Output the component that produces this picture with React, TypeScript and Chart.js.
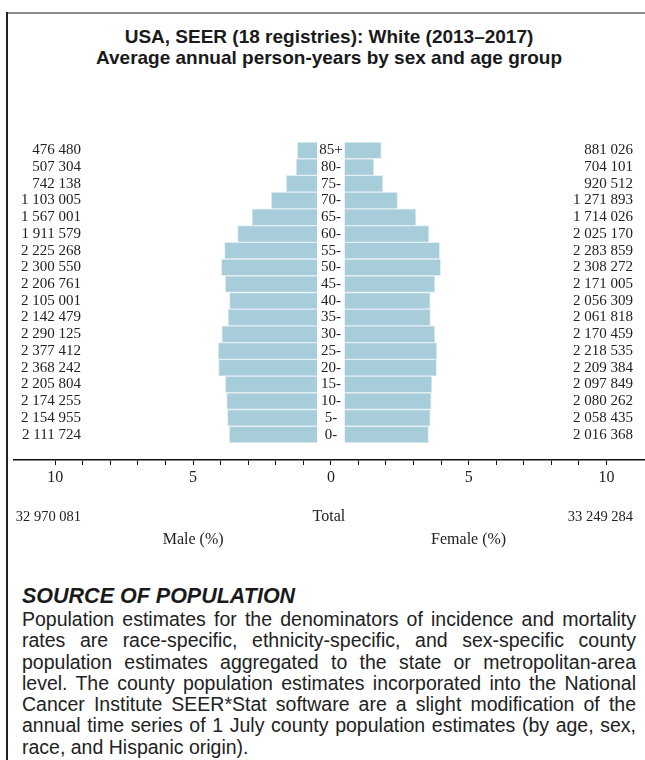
import React, { useEffect, useRef } from "react";
import { Chart, registerables } from "chart.js";

Chart.register(...registerables);

const titleLines = [
  "USA, SEER (18 registries): White (2013–2017)",
  "Average annual person-years by sex and age group",
];
const ageGroups = ["85+", "80-", "75-", "70-", "65-", "60-", "55-", "50-", "45-", "40-", "35-", "30-", "25-", "20-", "15-", "10-", "5-", "0-"];
const malePop = [476480, 507304, 742138, 1103005, 1567001, 1911579, 2225268, 2300550, 2206761, 2105001, 2142479, 2290125, 2377412, 2368242, 2205804, 2174255, 2154955, 2111724];
const femalePop = [881026, 704101, 920512, 1271893, 1714026, 2025170, 2283859, 2308272, 2171005, 2056309, 2061818, 2170459, 2218535, 2209384, 2097849, 2080262, 2058435, 2016368];
const maleTotal = 32970081;
const femaleTotal = 33249284;
const xTickValues = [-10, -9, -8, -7, -6, -5, -4, -3, -2, -1, 0, 1, 2, 3, 4, 5, 6, 7, 8, 9, 10];
const labeledTicks = [-10, -5, 0, 5, 10];
const centerGap = 0.5;
const sourceHeading = "SOURCE OF POPULATION";
const sourceLines = [
  "Population estimates for the denominators of incidence and mortality",
  "rates are race-specific, ethnicity-specific, and sex-specific county",
  "population estimates aggregated to the state or metropolitan-area",
  "level. The county population estimates incorporated into the National",
  "Cancer Institute SEER*Stat software are a slight modification of the",
  "annual time series of 1 July county population estimates (by age, sex,",
  "race, and Hispanic origin).",
];

const grandTotal = maleTotal + femaleTotal;
const fmt = (n: number) => String(n).replace(/\B(?=(\d{3})+(?!\d))/g, " ");

const SERIF = '"Liberation Serif", "Times New Roman", serif';
const SANS = '"Liberation Sans", Arial, sans-serif';

const labelsPlugin = {
  id: "pyramidLabels",
  afterDraw(chart: any) {
    const { ctx, scales, chartArea } = chart;
    const x = scales.x;
    const y = scales.y;
    ctx.save();
    ctx.fillStyle = "#222";
    ctx.textBaseline = "middle";
    ageGroups.forEach((age, i) => {
      const py = y.getPixelForValue(i);
      ctx.font = `15px ${SERIF}`;
      ctx.textAlign = "center";
      ctx.fillText(age, x.getPixelForValue(0), py);
      ctx.textAlign = "right";
      ctx.fillText(fmt(malePop[i]), chartArea.left + 67, py);
      ctx.fillText(fmt(femalePop[i]), chartArea.right - 12, py);
    });
    const totalY = chartArea.bottom + 57;
    ctx.font = `14.5px ${SERIF}`;
    ctx.textAlign = "right";
    ctx.fillText(fmt(maleTotal), chartArea.left + 67, totalY);
    ctx.fillText(fmt(femaleTotal), chartArea.right - 12, totalY);
    ctx.font = `16px ${SERIF}`;
    ctx.textAlign = "center";
    ctx.fillText("Total", x.getPixelForValue(0) - 2, totalY);
    const sexY = chartArea.bottom + 80;
    ctx.fillText("Male (%)", x.getPixelForValue(-5), sexY);
    ctx.fillText("Female (%)", x.getPixelForValue(5), sexY);
    ctx.restore();
  },
};

function PyramidChart() {
  const canvasRef = useRef<HTMLCanvasElement | null>(null);
  useEffect(() => {
    if (!canvasRef.current) return;
    const maleData = malePop.map((v, i) => ({ y: i, x: [-centerGap - (v / grandTotal) * 100, -centerGap] }));
    const femaleData = femalePop.map((v, i) => ({ y: i, x: [centerGap, centerGap + (v / grandTotal) * 100] }));
    const barStyle = {
      backgroundColor: "#a7ccda",
      borderColor: "#e4eff4",
      borderWidth: 1,
      grouped: false,
      barPercentage: 1,
      categoryPercentage: 1,
    };
    const chart = new Chart(canvasRef.current, {
      type: "bar",
      data: {
        datasets: [
          { label: "Male", data: maleData as any, ...barStyle },
          { label: "Female", data: femaleData as any, ...barStyle },
        ],
      },
      options: {
        indexAxis: "y",
        animation: false,
        responsive: true,
        maintainAspectRatio: false,
        layout: { padding: { left: 14, right: 0, top: 42, bottom: 0 } },
        plugins: {
          legend: { display: false },
          title: { display: false },
          tooltip: { enabled: false },
        },
        scales: {
          y: {
            type: "linear",
            reverse: true,
            offset: false,
            min: -0.5,
            max: 18.52,
            display: false,
            grid: { offset: false },
          },
          x: {
            type: "linear",
            offset: false,
            min: -11.5,
            max: 11.4,
            afterBuildTicks: (s: any) => {
              s.ticks = xTickValues.map((v) => ({ value: v }));
            },
            afterFit: (s: any) => {
              s.height = 100;
            },
            grid: {
              drawOnChartArea: false,
              drawTicks: true,
              tickLength: 5,
              color: "#111",
              lineWidth: 1,
            },
            border: { display: true, color: "#111", width: 1.5 },
            ticks: {
              autoSkip: false,
              maxRotation: 0,
              padding: 3,
              color: "#222",
              font: { family: SERIF, size: 16 },
              callback: (v: any) => (labeledTicks.includes(Number(v)) ? String(Math.abs(Number(v))) : ""),
            },
          },
        },
      },
      plugins: [labelsPlugin],
    } as any);
    return () => chart.destroy();
  }, []);
  return <canvas ref={canvasRef} />;
}

export default function App() {
  return (
    <div style={{ position: "absolute", left: 0, top: 0, width: 645, height: 760, overflow: "hidden", background: "#fff" }}>
      <div style={{ position: "absolute", left: 7, top: 12, right: 0, height: 2, background: "#8c8c8c" }} />
      <div style={{ position: "absolute", left: 6, top: 12, width: 2, bottom: 0, background: "#222" }} />
      <div
        style={{
          position: "absolute",
          left: 0,
          top: 26,
          width: 658,
          textAlign: "center",
          fontFamily: SANS,
          fontWeight: "bold",
          fontSize: 19,
          lineHeight: "21px",
          color: "#1a1a1a",
        }}
      >
        {titleLines.map((t) => (
          <div key={t}>{t}</div>
        ))}
      </div>
      <div style={{ position: "absolute", left: 0, top: 100, width: 645, height: 460 }}>
        <PyramidChart />
      </div>
      <div
        style={{
          position: "absolute",
          left: 22,
          top: 584,
          fontFamily: SANS,
          fontWeight: "bold",
          fontStyle: "italic",
          fontSize: 21.5,
          lineHeight: "24px",
          color: "#1a1a1a",
        }}
      >
        {sourceHeading}
      </div>
      <div
        style={{
          position: "absolute",
          left: 22,
          top: 609,
          width: 614,
          fontFamily: SANS,
          fontSize: 19.5,
          lineHeight: "21.3px",
          color: "#222",
        }}
      >
        {sourceLines.map((line, i) => (
          <div
            key={i}
            style={{
              textAlign: i < sourceLines.length - 1 ? "justify" : "left",
              textAlignLast: i < sourceLines.length - 1 ? "justify" : "left",
              whiteSpace: "nowrap",
            }}
          >
            {line}
          </div>
        ))}
      </div>
    </div>
  );
}
